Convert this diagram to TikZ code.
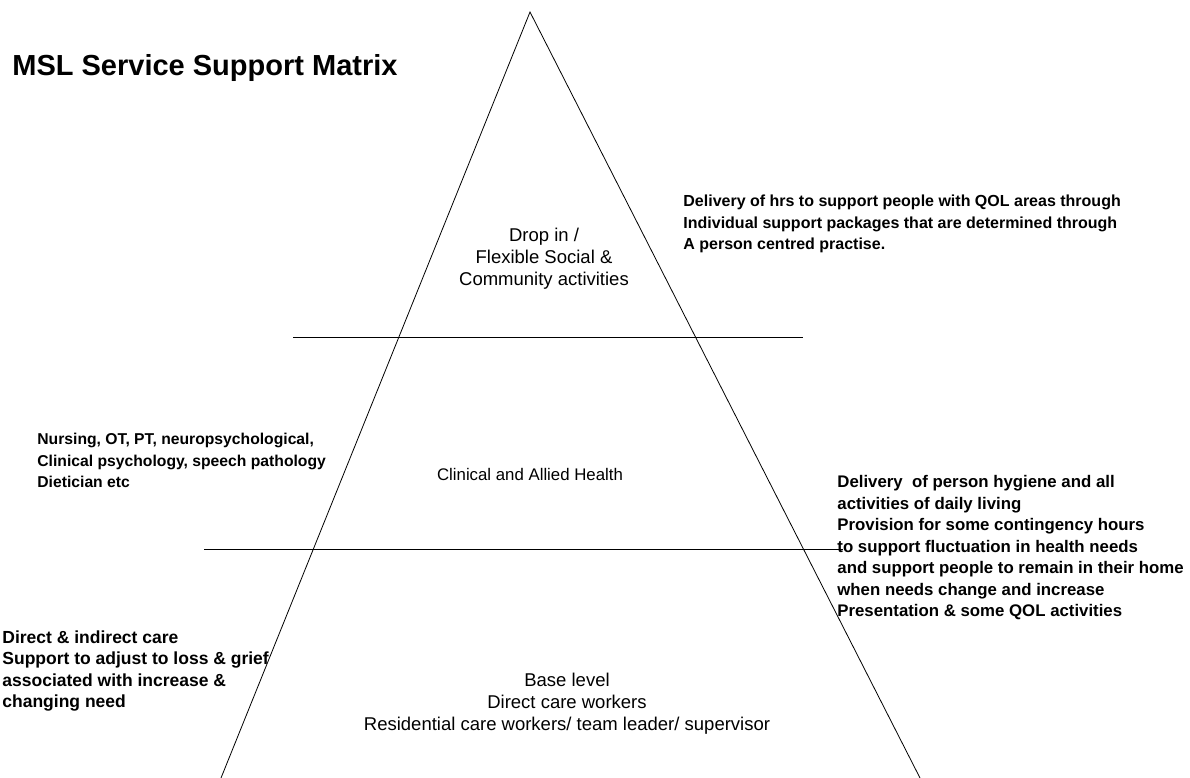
\documentclass[tikz,border=0pt]{standalone}
\usepackage{fontspec}
\setmainfont{Liberation Sans}
\usepackage{xcolor}
\usepackage{tikz}
\usetikzlibrary{calc}
\usetikzlibrary{positioning}

\begin{document}
\begin{tikzpicture}[x=1pt, y=-1pt, line width=0.8pt,
    sidetext/.style={inner sep=0pt, anchor=north west, align=left,
      font=\fontsize{#1}{21.5}\selectfont\bfseries},
    sidetext/.default=16,
    leveltext/.style={inner sep=0pt, anchor=north, align=center,
      font=\fontsize{#1}{22}\selectfont},
    leveltext/.default=18.5] % Pyramid

      \useasboundingbox (0, 0) rectangle (1190, 778);

      \coordinate (apex) at (530, 12);
      \coordinate (baseL) at (221, 778);
      \coordinate (baseR) at (920, 778);

      \draw (baseL) -- (apex) -- (baseR);

      \coordinate (cutA1) at (293, 337);
      \coordinate (cutA2) at (803, 337);
      \coordinate (cutB1) at (204, 549);
      \coordinate (cutB2) at (843, 549);
      \draw (cutA1) -- (cutA2);
      \draw (cutB1) -- (cutB2);

      \node [anchor=west, inner sep=0pt,
        font=\fontsize{29}{34}\selectfont\bfseries] (title) at (12, 68)
        {MSL Service Support Matrix};

      \node [leveltext] (top) at (544, 228)
        {Drop in /\\ Flexible Social \&\\ Community activities};
      \node [leveltext=16.8, anchor=center] (mid) at (530, 474)
        {Clinical and Allied Health};
      \node [leveltext] (base) at (567, 673)
        {Base level\\ Direct care workers\\
         Residential care workers/ team leader/ supervisor};

      \node [sidetext] (topnote) at (683, 195)
        {Delivery of hrs to support people with QOL areas through\\
         Individual support packages that are determined through\\
         A person centred practise.};
      \node [sidetext=15.7] (midnote) at (37, 433)
        {Nursing, OT, PT, neuropsychological,\\
         Clinical psychology, speech pathology\\
         Dietician etc};
      \node [sidetext=16.8] (carenote) at (837, 475)
        {Delivery \ of person hygiene and all\\
         activities of daily living\\
         Provision for some contingency hours\\
         to support fluctuation in health needs\\
         and support people to remain in their home\\
         when needs change and increase\\
         Presentation \& some QOL activities};
      \node [sidetext=17.5] (basenote) at (2, 630)
        {Direct \& indirect care\\
         Support to adjust to loss \& grief\\
         associated with increase \&\\
         changing need};

    \end{tikzpicture}
\end{document}
